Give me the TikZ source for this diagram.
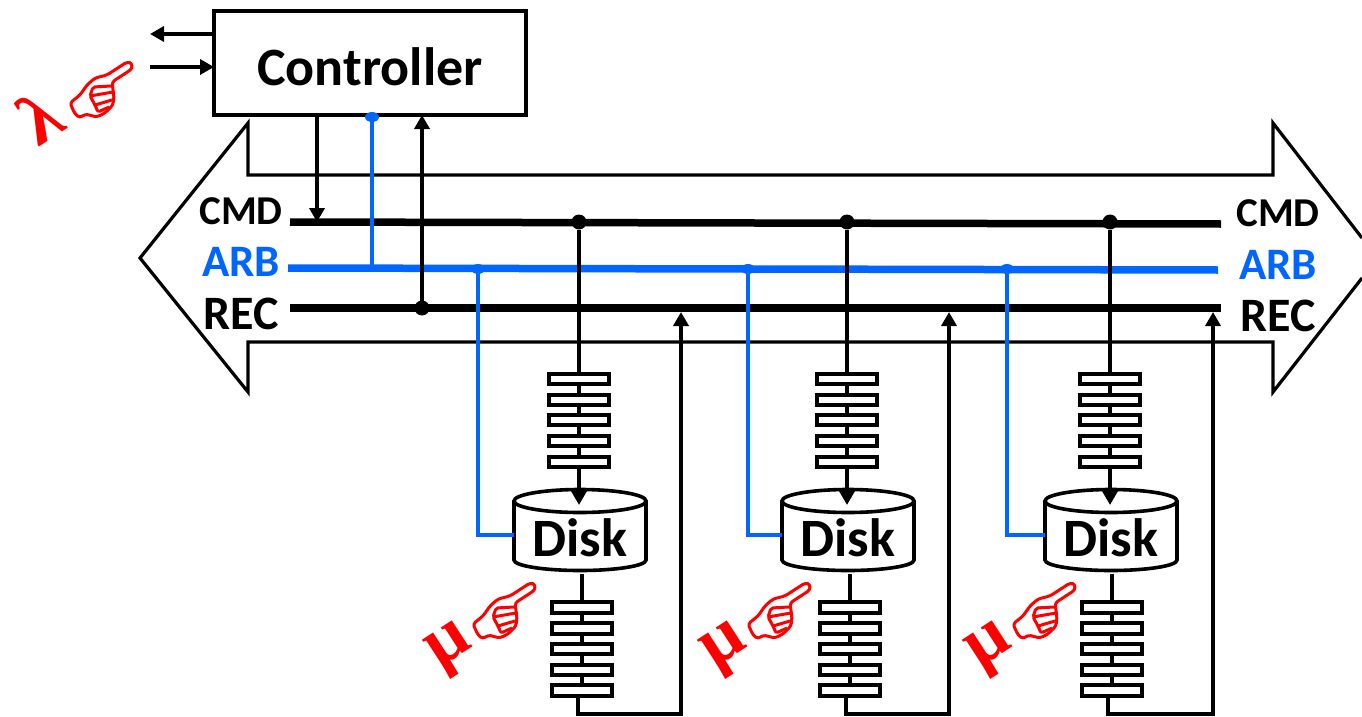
\documentclass[tikz,border=0pt]{standalone}
\usepackage{fontspec}
\setmainfont{Carlito}
\newfontfamily\greekfont{Liberation Serif}
\usetikzlibrary{arrows.meta,calc,shapes.geometric}

\begin{document}
\begin{tikzpicture}[x=1pt, y=-1pt]
        \tikzset{
            wire/.style={line width=3.6pt, black},
            arrowwire/.style={wire, -{Triangle[length=14pt,width=15pt]}},
            arbwire/.style={line width=3.6pt, arbblue},
            busline/.style={line width=7.5pt},
            ctrlbox/.style={draw, line width=3.4pt, outer sep=0pt, minimum width=312pt, minimum height=104pt},
            slot/.style={draw, line width=3.6pt, outer sep=0pt, minimum width=60pt, minimum height=10.5pt, inner sep=0pt},
            diskline/.style={line width=3.6pt},
            bigtext/.style={inner sep=0pt, font=\bfseries\fontsize{54}{54}\selectfont},
            buslabel/.style={inner sep=0pt, font=\bfseries\fontsize{45}{45}\selectfont},
            blackdot/.style={circle, fill=black, inner sep=0pt, minimum size=15pt},
            bluedot/.style={ellipse, fill=arbblue, inner sep=0pt, minimum width=14pt, minimum height=10pt},
            rate/.style={red, rotate=33, inner sep=0pt, font=\greekfont\bfseries\fontsize{72}{72}\selectfont},
            pointhand/.pic={
                \draw[red, line width=3pt, rounded corners=3pt, line join=round]
                    (-35,13) -- (-30,24) -- (-25,28) -- (-20,24) -- (-8,27) -- (0,23) -- (8,15) -- (9,7)
                    -- (7,-8) -- (27,-21) -- (27,-27) -- (22,-28) -- (2,-15) -- (-10,-12) -- (-18,-5) -- (-25,5) -- cycle;
                \draw[red, line width=3pt, rounded corners=2pt, line join=round]
                    (6,-4) -- (-12,-3) -- (-15,6) -- (-10,15) -- (-7,22) -- (4,17)
                    (-15,6) -- (8,2)
                    (-10,15) -- (7,10);
            },
        }
        \definecolor{arbblue}{RGB}{0,102,255}
        \useasboundingbox (0,0) rectangle (1362,717);

        % Controller and its outside arrows
        \node[ctrlbox] (ctrl) at (370,63) {};
        \node[bigtext] (ctrltext) at (370,67) {Controller};
        \coordinate (outend) at (150,34);
        \coordinate (instart) at (150,67);
        \draw[arrowwire] (ctrl.west |- outend) -- (outend);
        \draw[arrowwire] (instart) -- (ctrl.west |- instart);
        \pic (lamhand) at (105,90) {pointhand};
        \node[rate] (lam) at (40,117) {λ};

        % Bus outline, cut by the right edge
        \draw[line width=3.2pt, line join=miter]
            (1362,238) -- (1273,123) -- (1273,175) -- (248,175) -- (248,123) -- (140,258)
            -- (248,392) -- (248,342) -- (1273,342) -- (1273,392) -- (1362,278);

        % Bus lines
        \coordinate (cmdL) at (290,222);
        \coordinate (cmdR) at (1221,224);
        \coordinate (arbL) at (288,268);
        \coordinate (arbR) at (1218,270);
        \coordinate (recL) at (290,308);
        \coordinate (recR) at (1221,308);
        \draw[busline] (cmdL) -- (cmdR);
        \draw[busline, arbblue] (arbL) -- (arbR);
        \draw[busline] (recL) -- (recR);

        \node[buslabel, font=\bfseries\fontsize{41}{41}\selectfont] (cmdleft) at (241,211) {CMD};
        \node[buslabel, arbblue] (arbleft) at (241,262) {ARB};
        \node[buslabel, font=\bfseries\fontsize{48}{48}\selectfont] (recleft) at (241,314) {REC};
        \node[buslabel, font=\bfseries\fontsize{41}{41}\selectfont] (cmdright) at (1278,213) {CMD};
        \node[buslabel, arbblue] (arbright) at (1278,265) {ARB};
        \node[buslabel, font=\bfseries\fontsize{48}{48}\selectfont] (recright) at (1278,316) {REC};

        % Controller to bus
        \coordinate (cmdin) at (317,222);
        \coordinate (arbjoin) at (372,268);
        \node[bluedot] (ctrlarb) at (372,117) {};
        \node[blackdot] (recjoin) at (422,308) {};
        \draw[arrowwire] (ctrl.south -| cmdin) -- (cmdin);
        \draw[arbwire] (ctrlarb.center) -- (arbjoin);
        \draw[arrowwire] (recjoin.center) -- (ctrl.south -| recjoin);

        % One column for each disk
        \foreach \k/\dx/\bx/\rx/\qx/\hx in {1/579/478/681/582/0, 2/847/748/949/850/275, 3/1110/1007/1213/1112/540} {
            \node[blackdot] (cmdjoin\k) at (\dx,222) {};
            \node[bluedot] (arbjoin\k) at (\bx,269) {};

            \foreach \s/\sy in {1/379, 2/400, 3/420, 4/441, 5/462} {
                \node[slot] (qa\k\s) at (\dx,\sy) {};
            }
            \foreach \s/\sy in {1/607.5, 2/628.5, 3/649, 4/670, 5/690.5} {
                \node[slot] (qb\k\s) at (\qx,\sy) {};
            }

            % Disk drawn as a flat cylinder
            \coordinate (disktop\k) at (\dx+1,501);
            \coordinate (diskleft\k) at (\dx+1-66,501);
            \coordinate (diskwest\k) at (\dx+1-66,535);
            \coordinate (diskbase\k) at (\dx+1-66,560);
            \draw[diskline] (disktop\k) ellipse [x radius=66, y radius=11.5];
            \draw[diskline] (diskleft\k) -- (diskbase\k)
                arc [start angle=180, end angle=0, x radius=66, y radius=10.5] -- ++(0,-59);
            \node[bigtext] (disktext\k) at (\dx+1,538) {Disk};

            \coordinate (diskin\k) at (\dx,505);
            \coordinate (diskout\k) at (\qx,574);
            \coordinate (arbin\k) at (\bx,535);
            \coordinate (retA\k) at (\qx-4,714);
            \coordinate (retB\k) at (\rx,714);
            \coordinate (recin\k) at (\rx,312);

            \draw[wire] (cmdjoin\k) -- (qa\k1) -- (qa\k2) -- (qa\k3) -- (qa\k4) -- (qa\k5);
            \draw[arrowwire] (qa\k5) -- (diskin\k);
            \draw[wire] (diskout\k) -- (qb\k1) -- (qb\k2) -- (qb\k3) -- (qb\k4) -- (qb\k5);
            \draw[arrowwire] (qb\k5.south -| retA\k) -- (retA\k) -- (retB\k) -- (recin\k);
            \draw[arbwire] (arbjoin\k.center) -- (arbin\k) -- (diskwest\k);

            \pic (muhand\k) at (508+\hx,611) {pointhand};
            \node[rate] (mu\k) at (452+\hx,650) {μ};
        }
\end{tikzpicture}
\end{document}
